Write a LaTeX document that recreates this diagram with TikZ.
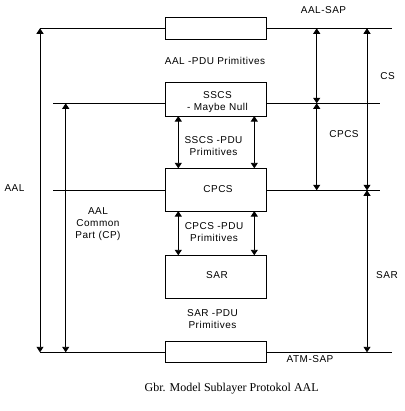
\documentclass[tikz,border=0pt]{standalone}
\usepackage{fontspec}
\setsansfont{Liberation Sans}[LetterSpace=5]
\setmainfont{Liberation Serif}
\usetikzlibrary{arrows.meta}
\begin{document}
\begin{tikzpicture}[x=1pt,y=-1pt, line width=0.9pt,
  box/.style={draw, fill=white, minimum width=101pt, inner sep=0pt, outer sep=0pt},
  lbl/.style={font=\sffamily\fontsize{10}{12}\selectfont, align=center, inner sep=0pt},
  captext/.style={font=\rmfamily\fontsize{12}{14}\selectfont, inner sep=0pt},
  tri/.tip={Triangle[length=5.5pt,width=7pt]},
  dbl/.style={tri-tri}]
\useasboundingbox (0,0) rectangle (404,411);

% boxes
\node[box, minimum height=21.7pt] (topbox) at (216.2,28.2) {};
\node[box, minimum height=33.7pt] (sscs) at (216.2,99.2) {};
\node[box, minimum height=42.7pt] (cpcs) at (216.2,189.7) {};
\node[box, minimum height=43pt] (sar) at (216.2,276.8) {};
\node[box, minimum height=21.3pt] (botbox) at (216.2,351.7) {};

% horizontal line ends
\coordinate (tL) at (40,28.3);   \coordinate (tR) at (392,28.3);
\coordinate (sL) at (53,103.3);  \coordinate (sR) at (380,103.3);
\coordinate (cL) at (53,190.3);  \coordinate (cR) at (380,190.3);
\coordinate (bL) at (40,352.3);  \coordinate (bR) at (392,352.3);

\draw (tL) -- (tL -| topbox.west);  \draw (tR -| topbox.east) -- (tR);
\draw (sL) -- (sL -| sscs.west);    \draw (sR -| sscs.east) -- (sR);
\draw (cL) -- (cL -| cpcs.west);    \draw (cR -| cpcs.east) -- (cR);
\draw (bL) -- (bL -| botbox.west);  \draw (bR -| botbox.east) -- (bR);

% vertical arrow points
\coordinate (aalT) at (40,28.3);   \coordinate (aalB) at (40,352.3);
\coordinate (cpT) at (65.7,103.3); \coordinate (cpB) at (65.7,352.3);
\coordinate (csT) at (367,28.3);   \coordinate (csB) at (367,190.3);
\coordinate (sarB) at (367,352.3);
\coordinate (r1T) at (316.7,28.3); \coordinate (r1M) at (316.7,103.3);
\coordinate (r1B) at (316.7,190.3);

\draw[dbl] (aalT) -- (aalB);
\draw[dbl] (cpT) -- (cpB);
\draw[dbl] (csT) -- (csB);
\draw[dbl] (csB) -- (sarB);
\draw[dbl] (r1T) -- (r1M);
\draw[dbl] (r1M) -- (r1B);

% inter-box arrows
\coordinate (xa) at (178.3,0);
\coordinate (xb) at (254.3,0);
\draw[dbl] (sscs.south -| xa) -- (cpcs.north -| xa);
\draw[dbl] (sscs.south -| xb) -- (cpcs.north -| xb);
\draw[dbl] (cpcs.south -| xa) -- (sar.north -| xa);
\draw[dbl] (cpcs.south -| xb) -- (sar.north -| xb);

% box texts
\node[lbl] (sscsT) at (217.5,102) {SSCS\\- Maybe Null};
\node[lbl] (cpcsT) at (218,189.5) {CPCS};
\node[lbl] (sarT) at (217,275.5) {SAR};

% labels
\node[lbl] (aalsap) at (323.5,10) {AAL-SAP};
\node[lbl] (atmsap) at (310,359.5) {ATM-SAP};
\node[lbl] (aalpdu) at (215,61) {AAL -PDU Primitives};
\node[lbl] (sscspdu) at (213.5,146.5) {SSCS -PDU\\Primitives};
\node[lbl] (cpcspdu) at (214,232.5) {CPCS -PDU\\Primitives};
\node[lbl] (sarpdu) at (212.5,319) {SAR -PDU\\Primitives};
\node[lbl] (aal) at (14.5,188.5) {AAL};
\node[lbl] (aalcp) at (98,224) {AAL\\Common\\Part (CP)};
\node[lbl] (cs) at (387.5,76.5) {CS};
\node[lbl] (cpcsR) at (344,134.5) {CPCS};
\node[lbl] (sarR) at (387,275) {SAR};

\node[captext] (caption) at (231.7,388.5) {Gbr. Model Sublayer Protokol AAL};
\end{tikzpicture}
\end{document}
